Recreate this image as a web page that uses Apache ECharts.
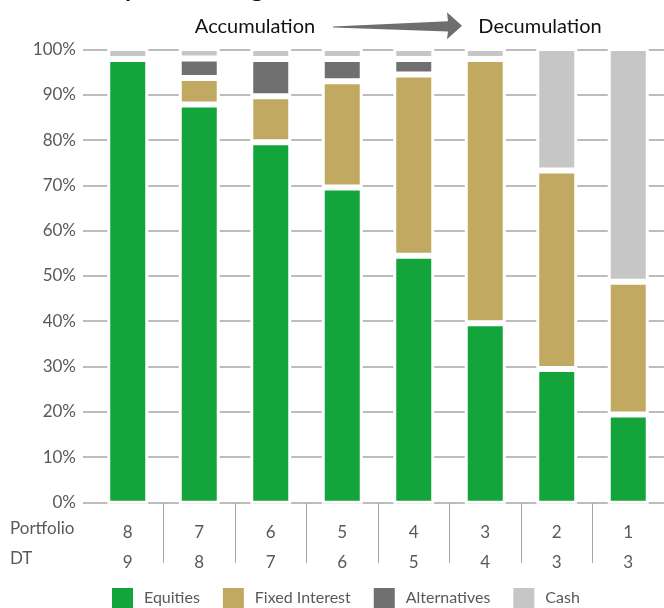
<!DOCTYPE html>
<html>
<head>
<meta charset="utf-8">
<script src="https://cdn.jsdelivr.net/npm/echarts@6/dist/echarts.min.js"></script>
<style>
html,body{margin:0;padding:0;background:#fff;}
#chart{width:664px;height:608px;}
</style>
</head>
<body>
<div id="chart"></div>
<script>
// ---- data ----
var portfolios = ['8', '7', '6', '5', '4', '3', '2', '1'];
var dtValues = ['9', '8', '7', '6', '5', '4', '3', '3'];
var rowLabels = ['Portfolio', 'DT'];
var seriesNames = ['Equities', 'Fixed Interest', 'Alternatives', 'Cash'];
var equities = [97.6, 87.6, 79.3, 69.4, 54.4, 39.6, 29.6, 19.6];
var fixedInterest = [0, 5.8, 10.1, 23.3, 39.8, 58, 43.5, 29.1];
var alternatives = [0, 4.3, 8.2, 4.9, 3.4, 0, 0, 0];
var cash = [2.4, 2.3, 2.4, 2.4, 2.4, 2.4, 26.9, 51.3];
var yTicks = [0, 10, 20, 30, 40, 50, 60, 70, 80, 90, 100];
var phaseLabels = ['Accumulation', 'Decumulation'];
var titleText = 'Summary of the range';

var colors = ['#13A43B', '#C2A961', '#707070', '#C6C6C6'];
var FONT = 'Lato, "Open Sans", sans-serif';
var TXT = '#595959';
var BW = 3;

var chart = echarts.init(document.getElementById('chart'), null, {renderer: 'canvas'});

var valuesBySeries = [equities, fixedInterest, alternatives, cash];
var series = seriesNames.map(function (name, k) {
  return {
    name: name,
    type: 'bar',
    stack: 'total',
    xAxisIndex: 1,
    yAxisIndex: 1,
    barWidth: 38 + BW,
    itemStyle: {color: colors[k], borderColor: '#ffffff', borderWidth: BW},
    data: valuesBySeries[k].map(function (v) { return v === 0 ? null : v; }),
    emphasis: {disabled: true}
  };
});

var gridTop = 49.5, gridBottom = 608 - 502.3;

chart.setOption({
  animation: false,
  color: colors,
  textStyle: {fontFamily: FONT},
  grid: [
    {left: 83, right: 0, top: gridTop, bottom: gridBottom},
    {left: 92, right: 0, top: gridTop - BW / 2, bottom: gridBottom - BW / 2},
    {left: 92, right: 0, top: 503, height: 60}
  ],
  xAxis: [
    {gridIndex: 0, type: 'value', show: false, min: 0, max: 1},
    {gridIndex: 1, type: 'category', data: portfolios,
      axisLine: {show: false}, axisTick: {show: false},
      axisLabel: {
        margin: 12 + BW / 2, fontSize: 17, color: TXT, lineHeight: 30, fontFamily: FONT,
        formatter: function (v, i) { return v + '\n' + dtValues[i]; }
      }
    },
    {gridIndex: 2, type: 'category', data: portfolios, show: true,
      axisLine: {show: false}, axisTick: {show: false}, axisLabel: {show: false},
      splitLine: {show: true, showMinLine: false, showMaxLine: false,
        lineStyle: {color: '#a6a6a6', width: 1}}
    }
  ],
  yAxis: [
    {gridIndex: 0, type: 'value', min: yTicks[0], max: yTicks[yTicks.length - 1], interval: 10,
      axisLine: {show: false}, axisTick: {show: false},
      axisLabel: {margin: 7, fontSize: 17, color: TXT, fontFamily: FONT,
        formatter: function (v) { return v + '%'; }},
      splitLine: {lineStyle: {color: '#bcbcbc', width: 2}}
    },
    {gridIndex: 1, type: 'value', min: 0, max: 100, show: false},
    {gridIndex: 2, type: 'value', min: 0, max: 1, show: false}
  ],
  legend: {
    data: seriesNames,
    left: 110, top: 586, padding: 0,
    icon: 'rect', itemWidth: 23, itemHeight: 22, itemGap: 21,
    textStyle: {fontSize: 16, color: TXT, fontFamily: FONT, padding: [0, 0, 0, 5]},
    selectedMode: false
  },
  graphic: [
    {type: 'text', left: 10, top: 520,
      style: {text: rowLabels[0], fontSize: 17, fill: TXT, fontFamily: FONT}},
    {type: 'text', left: 10, top: 550,
      style: {text: rowLabels[1], fontSize: 17, fill: TXT, fontFamily: FONT}},
    {type: 'text', x: 255, y: 27,
      style: {text: phaseLabels[0], fontSize: 20, fill: '#111', fontFamily: FONT,
        align: 'center', verticalAlign: 'middle'}},
    {type: 'text', x: 540, y: 27,
      style: {text: phaseLabels[1], fontSize: 20, fill: '#111', fontFamily: FONT,
        align: 'center', verticalAlign: 'middle'}},
    {type: 'text', x: 32, y: -11,
      style: {text: titleText, fontSize: 25, fontWeight: 'bold', fill: '#111', fontFamily: FONT,
        align: 'left', verticalAlign: 'middle'}},
    {type: 'polygon',
      shape: {points: [[333, 26.4], [448, 21.3], [447, 12.3], [462, 25.8], [447, 39.3], [448, 31.5], [333, 27.4]]},
      style: {fill: '#6e6e6e'}}
  ],
  series: series
});
</script>
</body>
</html>
